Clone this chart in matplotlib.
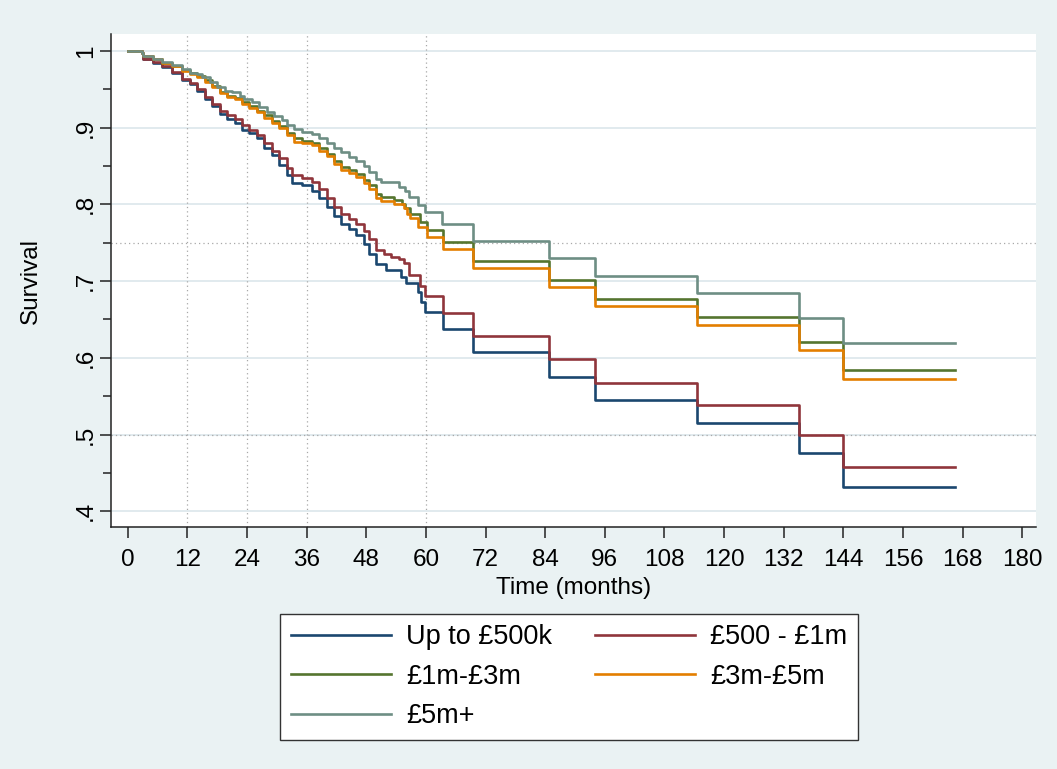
import matplotlib
matplotlib.use("Agg")
import matplotlib.pyplot as plt
import numpy as np

plt.rcParams["font.family"] = ["Liberation Sans", "DejaVu Sans"]

# Kaplan-Meier survival estimates by band (time in months, survival after each step)
series_labels = ["Up to £500k", "£500 - £1m", "£1m-£3m", "£3m-£5m", "£5m+"]
end_time = 166.5

t_500k = [0, 2.8, 3.1, 5, 7, 9, 11, 12.5, 14, 15.5, 17, 18.5, 20, 21.5, 23, 24.5, 26,
          27.5, 29, 30.5, 32, 33, 35, 37, 38.5, 40, 41.5, 43, 44.5, 46, 47.5, 48.5,
          50, 52, 55, 56, 58.5, 59.1, 59.8, 63.5, 69.5, 84.8, 94, 114.6, 135, 144]
s_500k = [1.0, 0.998, 0.989, 0.985, 0.979, 0.972, 0.962, 0.957, 0.948, 0.938, 0.928,
          0.918, 0.912, 0.906, 0.897, 0.893, 0.887, 0.873, 0.864, 0.852, 0.838, 0.828,
          0.825, 0.818, 0.808, 0.796, 0.785, 0.775, 0.768, 0.760, 0.748, 0.736, 0.722,
          0.714, 0.706, 0.697, 0.686, 0.673, 0.660, 0.638, 0.607, 0.575, 0.545, 0.515,
          0.476, 0.432]

t_1m = [0, 2.8, 3.1, 5, 7, 9, 11, 12.5, 14, 15.5, 17, 18.5, 20, 21.5, 23, 24.5, 26,
        27.5, 29, 30.5, 32, 33, 35, 37, 38.5, 40, 41.5, 43, 44.5, 46, 47.5, 48.5, 50,
        51.5, 53, 54.5, 55.5, 56.5, 58.8, 59.8, 63.5, 69.5, 84.8, 94, 114.6, 135, 144]
s_1m = [1.0, 0.998, 0.990, 0.986, 0.980, 0.973, 0.963, 0.958, 0.950, 0.940, 0.931,
        0.922, 0.917, 0.911, 0.903, 0.897, 0.891, 0.880, 0.870, 0.860, 0.847, 0.838,
        0.835, 0.829, 0.820, 0.808, 0.796, 0.787, 0.781, 0.775, 0.765, 0.755, 0.740,
        0.736, 0.732, 0.729, 0.723, 0.708, 0.693, 0.680, 0.659, 0.628, 0.598, 0.567,
        0.538, 0.500, 0.457]

t_3m = [0, 2.8, 3.1, 5, 7, 9, 11, 12.5, 14, 15.5, 17, 18.5, 20, 21.5, 23, 24.5, 26,
        27.5, 29, 30.5, 32, 33.5, 35, 37, 38.5, 40, 41.5, 43, 44.5, 46, 47.5, 48.5, 50,
        51, 53.5, 55.1, 55.8, 56.8, 58.8, 60.2, 63.5, 69.5, 84.8, 94, 114.6, 135, 144]
s_3m = [1.0, 0.998, 0.993, 0.989, 0.985, 0.981, 0.975, 0.971, 0.967, 0.962, 0.955,
        0.946, 0.941, 0.939, 0.933, 0.928, 0.922, 0.916, 0.909, 0.902, 0.893, 0.886,
        0.883, 0.880, 0.873, 0.866, 0.857, 0.849, 0.845, 0.840, 0.832, 0.825, 0.814,
        0.810, 0.806, 0.801, 0.795, 0.788, 0.777, 0.766, 0.751, 0.726, 0.702, 0.677,
        0.653, 0.621, 0.584]

t_5m = [0, 2.8, 3.1, 5, 7, 9, 11, 12.5, 14, 15.5, 17, 18.5, 20, 21.5, 23, 24.5, 26,
        27.5, 29, 30.5, 32, 33.5, 35, 37, 38.5, 40, 41.5, 43, 44.5, 46, 47.5, 48.5, 50,
        51, 53.5, 55.5, 56.1, 56.8, 58.5, 60.2, 63.5, 69.5, 84.8, 94, 114.6, 135, 144]
s_5m = [1.0, 0.998, 0.993, 0.989, 0.985, 0.980, 0.974, 0.970, 0.966, 0.960, 0.953,
        0.945, 0.940, 0.937, 0.931, 0.926, 0.920, 0.913, 0.906, 0.899, 0.890, 0.882,
        0.880, 0.877, 0.870, 0.863, 0.853, 0.845, 0.841, 0.836, 0.828, 0.820, 0.808,
        0.804, 0.801, 0.795, 0.788, 0.782, 0.771, 0.758, 0.742, 0.717, 0.692, 0.668,
        0.643, 0.610, 0.572]

t_5mplus = [0, 2.8, 3.1, 5, 7, 9, 11, 12.5, 14, 15, 16.5, 18, 19.5, 21, 22.5, 23.5, 25,
            26.5, 28, 29.5, 31, 32, 33.5, 35, 37, 38.5, 40, 41.5, 43, 44.5, 46, 47.5,
            48.5, 50, 51, 54.5, 55.8, 56.5, 58.5, 59.8, 63.2, 69.5, 84.8, 94, 114.6,
            135, 144]
s_5mplus = [1.0, 0.998, 0.994, 0.990, 0.986, 0.982, 0.976, 0.972, 0.970, 0.966, 0.960,
            0.953, 0.948, 0.946, 0.942, 0.937, 0.933, 0.927, 0.920, 0.915, 0.910, 0.904,
            0.898, 0.895, 0.892, 0.886, 0.880, 0.873, 0.868, 0.862, 0.857, 0.850, 0.842,
            0.833, 0.829, 0.823, 0.817, 0.810, 0.799, 0.790, 0.774, 0.752, 0.730, 0.707,
            0.684, 0.652, 0.619]

x_ticks = list(range(0, 181, 12))
y_ticks = [0.4, 0.5, 0.6, 0.7, 0.8, 0.9, 1.0]
y_tick_labels = [".4", ".5", ".6", ".7", ".8", ".9", "1"]
ref_months = [12, 24, 36, 60]
ref_survival = [0.75, 0.5]

colors = ["#1a476f", "#90353b", "#55752f", "#e37e00", "#6e8e84"]
curves = [(t_500k, s_500k), (t_1m, s_1m), (t_3m, s_3m), (t_5m, s_5m), (t_5mplus, s_5mplus)]

W, H = 1057, 769
fig = plt.figure(figsize=(W / 100, H / 100), dpi=100, facecolor="#eaf2f3")
ax = fig.add_axes([111 / W, 1 - 527 / H, (1036 - 111) / W, (527 - 34) / H])
ax.set_facecolor("white")

ax.set_xlim(-3.36, 182.75)
ax.set_ylim(0.3794, 1.0222)

# horizontal grid
for y in y_ticks:
    ax.axhline(y, color="#e1eaee", lw=1.4, zorder=0.5)
# dotted reference lines
for m in ref_months:
    ax.axvline(m, color="#a8a8a8", lw=0.9, ls=(0, (1, 2.5)), zorder=0.6)
for y in ref_survival:
    ax.axhline(y, color="#a8a8a8", lw=0.9, ls=(0, (1, 2.5)), zorder=0.6)

handles = []
for (t, s), c, lab in zip(curves, colors, series_labels):
    tt = list(t) + [end_time]
    ss = list(s) + [s[-1]]
    h, = ax.step(tt, ss, where="post", color=c, lw=1.9, label=lab, zorder=2)
    handles.append(h)

for side in ["top", "right"]:
    ax.spines[side].set_visible(False)
for side in ["left", "bottom"]:
    ax.spines[side].set_color("#222222")
    ax.spines[side].set_linewidth(1.1)

ax.set_xticks(x_ticks)
ax.set_xticklabels([str(v) for v in x_ticks], fontsize=17.5)
ax.set_yticks(y_ticks)
ax.set_yticklabels(y_tick_labels, fontsize=17.5, rotation=90, va="center")
ax.set_yticks([0.45, 0.55, 0.65, 0.75, 0.85, 0.95], minor=True)
ax.tick_params(axis="x", which="major", length=8, width=1.1, color="#222222", pad=8)
ax.tick_params(axis="y", which="major", length=8, width=1.1, color="#222222", pad=2)
ax.tick_params(axis="y", which="minor", length=6, width=1.1, color="#222222")

ax.set_xlabel("Time (months)", fontsize=17.5, labelpad=4)
ax.set_ylabel("Survival", fontsize=17.5, labelpad=24)

# legend laid out row by row (two columns)
order = [0, 2, 4, 1, 3]
leg = ax.legend([handles[i] for i in order], [series_labels[i] for i in order],
                loc="upper center", bbox_to_anchor=(569 / W, 1 - 614 / H),
                bbox_transform=fig.transFigure, ncol=2, fontsize=19.5, frameon=True,
                fancybox=False, edgecolor="#333333", facecolor="white", framealpha=1,
                borderaxespad=0, handlelength=3.7, handletextpad=0.55,
                columnspacing=1.6, labelspacing=0.5, borderpad=0.38)
leg.get_frame().set_linewidth(1.0)
for h in leg.get_lines():
    h.set_linewidth(1.9)

fig.savefig("out.png", dpi=100, facecolor=fig.get_facecolor())
